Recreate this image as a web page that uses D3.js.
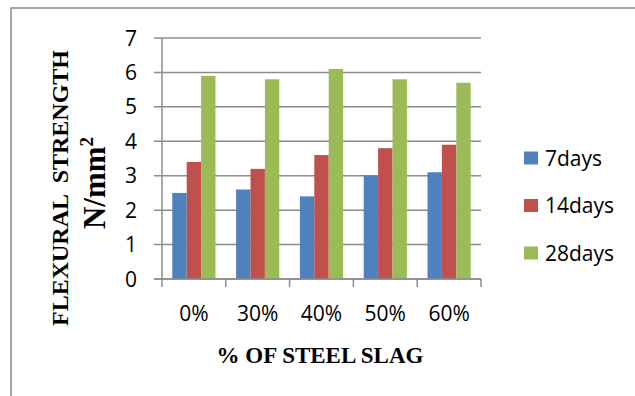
<!DOCTYPE html>
<html>
<head>
<meta charset="utf-8">
<script src="https://cdn.jsdelivr.net/npm/d3@7"></script>
<style>
  body { margin: 0; background: #fff; }
  svg { display: block; }
</style>
</head>
<body>
<svg id="chart" width="635" height="396"></svg>
<script>
// chart data
const categories = ['0%', '30%', '40%', '50%', '60%'];
const seriesNames = ['7days', '14days', '28days'];
const days7 = [2.5, 2.6, 2.4, 3.0, 3.1];
const days14 = [3.4, 3.2, 3.6, 3.8, 3.9];
const days28 = [5.9, 5.8, 6.1, 5.8, 5.7];
const yTicks = [0, 1, 2, 3, 4, 5, 6, 7];

const colors = ['#4F81BD', '#C0504D', '#9BBB59'];
const values = [days7, days14, days28];

const plot = {left: 162, right: 481, top: 38, bottom: 279};

const svg = d3.select('#chart');

// outer frame (only top and left edges show in the picture)
svg.append('rect')
  .attr('x', 11).attr('y', 8)
  .attr('width', 640).attr('height', 400)
  .attr('fill', 'none').attr('stroke', '#8a8a8a').attr('stroke-width', 1.5);

const x = d3.scaleBand()
  .domain(categories)
  .range([plot.left, plot.right])
  .paddingInner(0).paddingOuter(0);

const x1 = d3.scaleBand()
  .domain(seriesNames)
  .range([10.3, x.bandwidth() - 10.3]);

const y = d3.scaleLinear()
  .domain([0, 7])
  .range([plot.bottom, plot.top]);

// gridlines + y ticks
svg.append('g')
  .selectAll('line').data(yTicks)
  .enter().append('line')
  .attr('x1', plot.left - 8).attr('x2', plot.right)
  .attr('y1', d => y(d)).attr('y2', d => y(d))
  .attr('stroke', '#8c8c8c').attr('stroke-width', 1.5);

svg.append('g')
  .selectAll('text').data(yTicks)
  .enter().append('text')
  .attr('x', 137).attr('y', d => y(d))
  .attr('dy', '0.36em')
  .attr('text-anchor', 'end')
  .attr('font-family', 'Open Sans, sans-serif').attr('font-size', 21)
  .attr('fill', '#000')
  .text(d => d);

// bars
const groups = svg.append('g').selectAll('g').data(categories)
  .enter().append('g')
  .attr('transform', d => `translate(${x(d)},0)`);

groups.selectAll('rect')
  .data((c, i) => seriesNames.map((s, j) => ({s, v: values[j][i], c: colors[j]})))
  .enter().append('rect')
  .attr('x', d => x1(d.s))
  .attr('width', x1.bandwidth())
  .attr('y', d => y(d.v))
  .attr('height', d => y(0) - y(d.v))
  .attr('fill', d => d.c);

// y axis line
svg.append('line')
  .attr('x1', plot.left).attr('x2', plot.left)
  .attr('y1', plot.top).attr('y2', plot.bottom)
  .attr('stroke', '#8c8c8c').attr('stroke-width', 1.5);

// x axis with ticks at band edges
const xEdges = categories.map(c => x(c)).concat([plot.right]);
svg.append('line')
  .attr('x1', plot.left - 8).attr('x2', plot.right)
  .attr('y1', plot.bottom).attr('y2', plot.bottom)
  .attr('stroke', '#8c8c8c').attr('stroke-width', 1.5);
svg.append('g').selectAll('line').data(xEdges)
  .enter().append('line')
  .attr('x1', d => d).attr('x2', d => d)
  .attr('y1', plot.bottom).attr('y2', plot.bottom + 8)
  .attr('stroke', '#8c8c8c').attr('stroke-width', 1.5);

svg.append('g').selectAll('text').data(categories)
  .enter().append('text')
  .attr('x', d => x(d) + x.bandwidth() / 2)
  .attr('y', 321)
  .attr('text-anchor', 'middle')
  .attr('font-family', 'Open Sans, sans-serif').attr('font-size', 21)
  .attr('fill', '#000')
  .text(d => d);

// axis titles
svg.append('text')
  .attr('x', 320).attr('y', 363)
  .attr('text-anchor', 'middle')
  .attr('font-family', 'Liberation Serif, serif').attr('font-weight', 'bold')
  .attr('font-size', 23)
  .text('% OF STEEL SLAG');

svg.append('text')
  .attr('transform', 'translate(68,188) rotate(-90)')
  .attr('text-anchor', 'middle')
  .style('white-space', 'pre')
  .attr('font-family', 'Liberation Serif, serif').attr('font-weight', 'bold')
  .attr('font-size', 24)
  .text('FLEXURAL  STRENGTH');

const unit = svg.append('text')
  .attr('transform', 'translate(105,183) rotate(-90)')
  .attr('text-anchor', 'middle')
  .attr('font-family', 'Liberation Serif, serif').attr('font-weight', 'bold')
  .attr('font-size', 31);
unit.append('tspan').text('N/mm');
unit.append('tspan').attr('font-size', 19).attr('dy', -12).text('2');

// legend
const legend = svg.append('g').selectAll('g').data(seriesNames)
  .enter().append('g')
  .attr('transform', (d, i) => `translate(524,${158 + i * 47.5})`);
legend.append('rect')
  .attr('x', 0).attr('y', -6.5)
  .attr('width', 14).attr('height', 13)
  .attr('fill', (d, i) => colors[i]);
legend.append('text')
  .attr('x', 21).attr('y', 0).attr('dy', '0.36em')
  .attr('font-family', 'Open Sans, sans-serif').attr('font-size', 21)
  .attr('fill', '#000')
  .text(d => d);
</script>
</body>
</html>
